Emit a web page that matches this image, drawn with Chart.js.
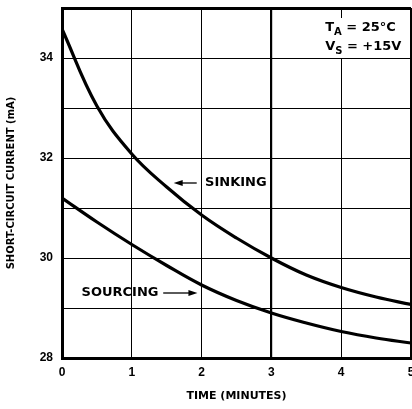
<!DOCTYPE html>
<html lang="en">
<head>
    <meta charset="UTF-8">
    <title>Short-Circuit Current vs Time</title>
    <script src="https://cdn.jsdelivr.net/npm/chart.js"></script>
    <style>
        body { margin: 0; background: #fff; }
        #wrap { width: 412px; height: 409px; position: relative; }
    </style>
</head>
<body>
    <div id="wrap"><canvas id="scChart"></canvas></div>

    <script>
        // data (time in minutes, current in mA)
        const timeMin = [0, 0.5, 1, 1.5, 2, 2.5, 3, 3.5, 4, 4.5, 5];
        const sinking = [34.58, 33.04, 32.08, 31.42, 30.86, 30.4, 30.0, 29.66, 29.41, 29.22, 29.07];
        const sourcing = [31.2, 30.72, 30.27, 29.85, 29.46, 29.15, 28.9, 28.7, 28.53, 28.4, 28.3];
        const xTicks = [0, 1, 2, 3, 4, 5];
        const yLabelTicks = [28, 30, 32, 34];

        const TICK_FONT = "'Liberation Sans', Arial, sans-serif";
        const TEXT_FONT = "'DejaVu Sans', sans-serif";

        function pts(ys) {
            return timeMin.map((t, i) => ({ x: t, y: ys[i] }));
        }

        function arrow(ctx, x1, y, x2) {
            // line from x1 to x2, head at x2
            const dir = x2 > x1 ? 1 : -1;
            ctx.beginPath();
            ctx.moveTo(x1, y);
            ctx.lineTo(x2 - dir * 6, y);
            ctx.stroke();
            ctx.beginPath();
            ctx.moveTo(x2, y);
            ctx.lineTo(x2 - dir * 9, y - 3);
            ctx.lineTo(x2 - dir * 9, y + 3);
            ctx.closePath();
            ctx.fill();
        }

        function subText(ctx, x, y, main, sub, rest) {
            ctx.font = 'bold 13px ' + TEXT_FONT;
            ctx.fillText(main, x, y);
            x += ctx.measureText(main).width;
            ctx.font = 'bold 10px ' + TEXT_FONT;
            ctx.fillText(sub, x, y + 4);
            x += ctx.measureText(sub).width;
            ctx.font = 'bold 13px ' + TEXT_FONT;
            ctx.fillText(rest, x, y);
        }

        const notes = {
            id: 'notes',
            afterDatasetsDraw(chart) {
                const { ctx, scales: { x, y } } = chart;
                ctx.save();
                ctx.fillStyle = '#000';
                ctx.strokeStyle = '#000';
                ctx.lineWidth = 1.3;
                ctx.textBaseline = 'middle';
                ctx.textAlign = 'left';

                // SINKING label, arrow points left to the curve
                ctx.font = 'bold 13px ' + TEXT_FONT;
                ctx.fillText('SINKING', x.getPixelForValue(2.05), y.getPixelForValue(31.5));
                arrow(ctx, x.getPixelForValue(1.93), y.getPixelForValue(31.5), x.getPixelForValue(1.6));

                // SOURCING label, arrow points right
                ctx.fillText('SOURCING', x.getPixelForValue(0.28), y.getPixelForValue(29.3));
                arrow(ctx, x.getPixelForValue(1.45), y.getPixelForValue(29.3), x.getPixelForValue(1.94));

                // conditions box
                const bx = x.getPixelForValue(3.77), by = y.getPixelForValue(34.8);
                ctx.fillStyle = '#fff';
                ctx.fillRect(bx - 3, by, 80, 40);
                ctx.fillStyle = '#000';
                subText(ctx, bx, y.getPixelForValue(34.6), 'T', 'A', ' = 25°C');
                subText(ctx, bx, y.getPixelForValue(34.22), 'V', 'S', ' = +15V');
                ctx.restore();
            }
        };

        const ctx = document.getElementById('scChart').getContext('2d');
        new Chart(ctx, {
            type: 'line',
            data: {
                datasets: [
                    { label: 'Sinking', data: pts(sinking) },
                    { label: 'Sourcing', data: pts(sourcing) }
                ]
            },
            options: {
                responsive: true,
                maintainAspectRatio: false,
                animation: false,
                layout: { padding: { top: 8, right: 1, left: 0, bottom: 0 } },
                elements: {
                    line: { borderColor: '#000', borderWidth: 3.2, tension: 0.4, fill: false },
                    point: { radius: 0 }
                },
                plugins: {
                    legend: { display: false },
                    tooltip: { enabled: false }
                },
                scales: {
                    x: {
                        type: 'linear',
                        min: 0,
                        max: 5,
                        afterFit(s) { s.height = 51; s.paddingLeft = 0; s.paddingRight = 0; },
                        afterBuildTicks(s) { s.ticks = xTicks.map(v => ({ value: v })); },
                        ticks: {
                            color: '#000',
                            padding: 7,
                            maxRotation: 0,
                            font: { family: TICK_FONT, size: 12, weight: 'bold' }
                        },
                        grid: {
                            color: '#000',
                            drawTicks: false,
                            lineWidth: c => (c.tick && c.tick.value === 3) ? 2.2 : (c.tick && c.tick.value === 5 ? 2 : 1)
                        },
                        border: { color: '#000', width: 3 },
                        title: {
                            display: true,
                            text: 'TIME (MINUTES)',
                            color: '#000',
                            padding: { top: 0, bottom: 6 },
                            font: { family: TEXT_FONT, size: 11, weight: 'bold' }
                        }
                    },
                    y: {
                        min: 28,
                        max: 35,
                        afterFit(s) { s.width = 62; s.paddingTop = 0; s.paddingBottom = 0; },
                        ticks: {
                            stepSize: 1,
                            color: '#000',
                            padding: 9,
                            font: { family: TICK_FONT, size: 12, weight: 'bold' },
                            callback: v => yLabelTicks.includes(v) ? String(v) : ''
                        },
                        grid: {
                            color: '#000',
                            drawTicks: false,
                            lineWidth: c => (c.tick && c.tick.value === 35) ? 3 : 1
                        },
                        border: { color: '#000', width: 3 },
                        title: {
                            display: true,
                            text: 'SHORT-CIRCUIT CURRENT (mA)',
                            color: '#000',
                            padding: { top: 5, bottom: 0 },
                            font: { family: TEXT_FONT, size: 10, weight: 'bold' }
                        }
                    }
                }
            },
            plugins: [notes]
        });
    </script>
</body>
</html>
